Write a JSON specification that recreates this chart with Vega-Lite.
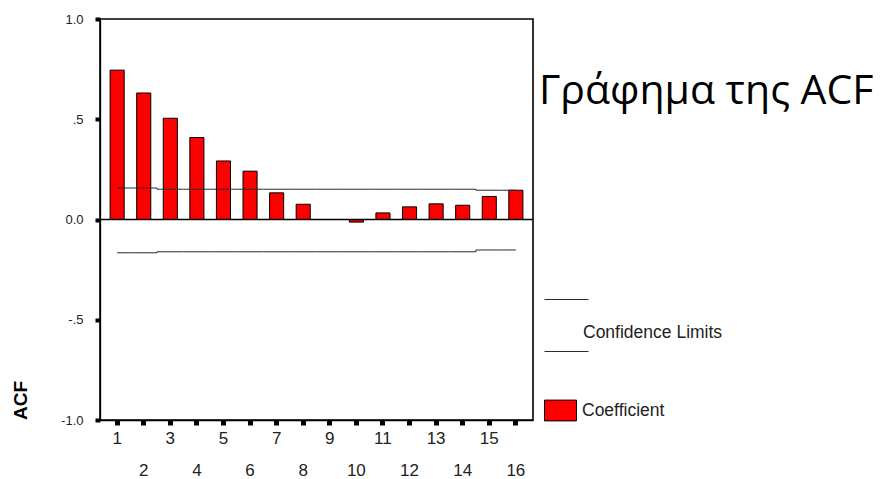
{
  "$schema": "https://vega.github.io/schema/vega-lite/v6.json",
  "width": 433,
  "height": 401,
  "autosize": {"type": "none"},
  "padding": {"left": 100, "top": 19, "right": 352, "bottom": 59},
  "background": "white",
  "title": {
    "text": "Γράφημα της ACF",
    "font": "Open Sans",
    "fontSize": 41,
    "fontWeight": "normal",
    "color": "#000000",
    "anchor": "start",
    "frame": "group",
    "orient": "top",
    "baseline": "alphabetic",
    "dx": 439,
    "dy": 136
  },
  "data": {
    "values": [
      {"lag": 1, "acf": 0.745, "upper": 0.157, "lower": -0.166},
      {"lag": 2, "acf": 0.631, "upper": 0.157, "lower": -0.166},
      {"lag": 3, "acf": 0.505, "upper": 0.151, "lower": -0.161},
      {"lag": 4, "acf": 0.409, "upper": 0.151, "lower": -0.161},
      {"lag": 5, "acf": 0.292, "upper": 0.151, "lower": -0.161},
      {"lag": 6, "acf": 0.241, "upper": 0.151, "lower": -0.161},
      {"lag": 7, "acf": 0.133, "upper": 0.151, "lower": -0.161},
      {"lag": 8, "acf": 0.076, "upper": 0.151, "lower": -0.161},
      {"lag": 9, "acf": 0.0, "upper": 0.151, "lower": -0.161},
      {"lag": 10, "acf": -0.013, "upper": 0.151, "lower": -0.161},
      {"lag": 11, "acf": 0.033, "upper": 0.151, "lower": -0.161},
      {"lag": 12, "acf": 0.063, "upper": 0.151, "lower": -0.161},
      {"lag": 13, "acf": 0.078, "upper": 0.151, "lower": -0.161},
      {"lag": 14, "acf": 0.071, "upper": 0.151, "lower": -0.161},
      {"lag": 15, "acf": 0.115, "upper": 0.146, "lower": -0.152},
      {"lag": 16, "acf": 0.146, "upper": 0.146, "lower": -0.152}
    ]
  },
  "layer": [
    {
      "mark": {"type": "bar", "stroke": "#000000", "strokeWidth": 1},
      "encoding": {
        "x": {
          "field": "lag",
          "type": "ordinal",
          "scale": {"paddingInner": 0.47, "paddingOuter": 0.38},
          "axis": {
            "title": null,
            "labelAngle": 0,
            "labelOverlap": false,
            "labelFont": "Liberation Sans",
            "labelFontSize": 17,
            "labelColor": "#222222",
            "labelBaseline": "top",
            "labelPadding": {"condition": {"test": "datum.value % 2 === 0", "value": 37}, "value": 5},
            "domainColor": "#000000",
            "domainWidth": 1.3,
            "tickColor": "#000000",
            "tickSize": 5,
            "tickWidth": 5,
            "grid": false
          }
        },
        "y": {
          "field": "acf",
          "type": "quantitative",
          "scale": {"domain": [-1, 1], "nice": false, "zero": false},
          "axis": {
            "title": "ACF",
            "titleFont": "Liberation Sans",
            "titleFontSize": 19,
            "titleFontWeight": "bold",
            "titleColor": "#000000",
            "titleAngle": 270,
            "titleAlign": "center",
            "titleBaseline": "middle",
            "titleX": -80,
            "titleY": 381,
            "values": [-1, -0.5, 0, 0.5, 1],
            "labelExpr": "datum.value == 1 ? '1.0' : datum.value == 0.5 ? '.5' : datum.value == 0 ? '0.0' : datum.value == -0.5 ? '-.5' : '-1.0'",
            "labelFont": "Liberation Sans",
            "labelFontSize": 13,
            "labelColor": "#222222",
            "labelPadding": 12,
            "domainColor": "#000000",
            "domainWidth": 1.3,
            "tickColor": "#000000",
            "tickSize": 5,
            "tickWidth": 4,
            "grid": false
          }
        },
        "fill": {
          "datum": "Coefficient",
          "scale": {"range": ["#ff0000"]},
          "legend": {
            "title": null,
            "orient": "none",
            "legendX": 444,
            "legendY": 375,
            "padding": 0,
            "symbolType": "M-1,-0.65H1V0.65H-1Z",
            "symbolSize": 1024,
            "symbolStrokeColor": "#000000",
            "symbolStrokeWidth": 1,
            "labelFont": "Liberation Sans",
            "labelFontSize": 17.5,
            "labelColor": "#222222",
            "labelOffset": 5
          }
        }
      }
    },
    {
      "mark": {"type": "line", "interpolate": "step", "strokeWidth": 1},
      "encoding": {
        "x": {"field": "lag", "type": "ordinal"},
        "y": {"field": "upper", "type": "quantitative"},
        "stroke": {
          "datum": "Confidence Limits",
          "scale": {"range": ["#2a2a2a"]},
          "legend": {
            "title": null,
            "orient": "none",
            "legendX": 444,
            "legendY": 293,
            "padding": 0,
            "symbolType": "M-1,-1.65H1.2M-1,0.95H1.2",
            "symbolSize": 1600,
            "symbolFillColor": "transparent",
            "symbolStrokeWidth": 1,
            "labelFont": "Liberation Sans",
            "labelFontSize": 17.5,
            "labelColor": "#222222",
            "labelOffset": -2
          }
        }
      }
    },
    {
      "mark": {"type": "line", "interpolate": "step", "strokeWidth": 1},
      "encoding": {
        "x": {"field": "lag", "type": "ordinal"},
        "y": {"field": "lower", "type": "quantitative"},
        "stroke": {"datum": "Confidence Limits"}
      }
    },
    {
      "data": {"values": [{"level": 0}]},
      "mark": {"type": "rule", "color": "#000000", "strokeWidth": 1.6},
      "encoding": {"y": {"field": "level", "type": "quantitative"}}
    }
  ],
  "config": {
    "view": {"stroke": "#000000", "strokeWidth": 1.6}
  }
}
